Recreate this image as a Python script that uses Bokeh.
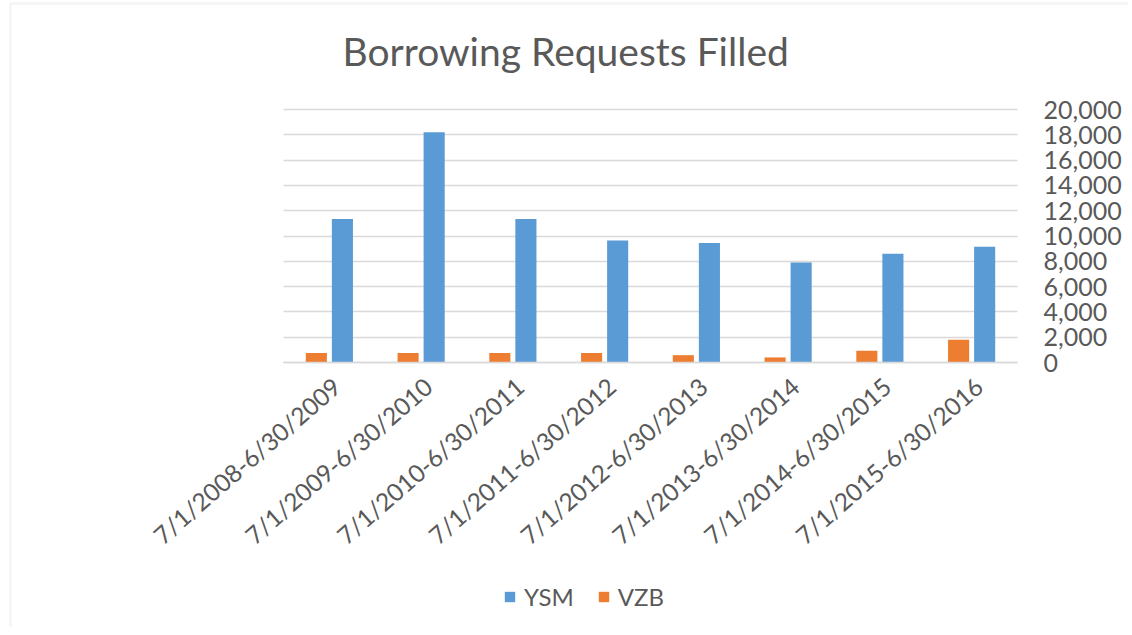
import math
from bokeh.plotting import figure
from bokeh.models import (ColumnDataSource, Range1d, FixedTicker, BoxAnnotation,
                          NumeralTickFormatter, Legend, LegendItem, Label)
from bokeh.transform import dodge
from bokeh.embed import file_html
from bokeh.resources import INLINE

categories = ["7/1/2008-6/30/2009", "7/1/2009-6/30/2010", "7/1/2010-6/30/2011",
              "7/1/2011-6/30/2012", "7/1/2012-6/30/2013", "7/1/2013-6/30/2014",
              "7/1/2014-6/30/2015", "7/1/2015-6/30/2016"]
ysm = [11350, 18200, 11350, 9650, 9450, 7900, 8600, 9150]
vzb = [750, 750, 750, 750, 580, 400, 930, 1800]
y_ticks = list(range(0, 20001, 2000))

TEXT = "#595959"
FONT = "Lato"
BORDER = "#d9d9d9"

idx = list(range(len(categories)))
source = ColumnDataSource(dict(x=idx, cat=categories, ysm=ysm, vzb=vzb))

# layout constants (pixels); the frame covers the whole canvas
W, H = 1128, 627
PLOT_LEFT, PLOT_RIGHT = 283, 1017
ZERO_Y, TOP_Y = 362, 109
PX_PER_CAT = (PLOT_RIGHT - PLOT_LEFT) / len(categories)
UNITS_PER_PX = 20000 / (ZERO_Y - TOP_Y)

x_lo, x_hi = -0.58, len(categories) - 0.58
x_start = x_lo - PLOT_LEFT / PX_PER_CAT
x_end = x_hi + (W - PLOT_RIGHT) / PX_PER_CAT
y_start = -(H - ZERO_Y) * UNITS_PER_PX
y_end = ZERO_Y * UNITS_PER_PX

p = figure(width=W, height=H, title=None,
           x_range=Range1d(x_start, x_end),
           y_range=Range1d(y_start, y_end),
           y_axis_location="right",
           output_backend="svg", toolbar_location=None,
           min_border_left=0, min_border_right=0,
           min_border_top=0, min_border_bottom=0)

# chart-area border (left and top edges)
p.add_layout(BoxAnnotation(left=x_start + 10 / PX_PER_CAT, right=x_end + 1,
                           top=y_end - 3 * UNITS_PER_PX,
                           bottom=y_start - 40 * UNITS_PER_PX,
                           fill_color=None, fill_alpha=0,
                           line_color=BORDER, line_width=2.5))

r_vzb = p.vbar(x=dodge("x", -0.222), top="vzb", width=0.23,
               source=source, color="#ed7d31", line_color=None)
r_ysm = p.vbar(x=dodge("x", 0.062), top="ysm", width=0.23,
               source=source, color="#5b9bd5", line_color=None)

title = Label(x=342, y=H - 50,
              x_units="screen", y_units="screen",
              text="Borrowing Requests Filled", text_align="left",
              text_baseline="alphabetic", text_font=FONT,
              text_font_size="39px", text_color=TEXT)
p.add_layout(title)

p.background_fill_color = "white"
p.border_fill_color = "white"
p.outline_line_color = None

p.xgrid.grid_line_color = None
p.ygrid.grid_line_color = "#d9d9d9"
p.ygrid.grid_line_width = 1.5
p.ygrid.cross_bounds = (x_lo, x_hi)

p.yaxis.fixed_location = x_hi
p.yaxis.bounds = (0, 20000)
p.yaxis.ticker = FixedTicker(ticks=y_ticks)
p.yaxis.formatter = NumeralTickFormatter(format="0,0")
p.yaxis.axis_line_color = None
p.yaxis.major_tick_line_color = None
p.yaxis.minor_tick_line_color = None
p.yaxis.major_tick_out = 0
p.yaxis.major_tick_in = 0
p.yaxis.major_label_text_font = FONT
p.yaxis.major_label_text_font_size = "25px"
p.yaxis.major_label_text_color = TEXT
p.yaxis.major_label_standoff = 26

p.xaxis.fixed_location = 0
p.xaxis.bounds = (x_lo, x_hi)
p.xaxis.ticker = FixedTicker(ticks=idx)
p.xaxis.major_label_overrides = {i: c for i, c in zip(idx, categories)}
p.xaxis.axis_line_color = "#d9d9d9"
p.xaxis.axis_line_width = 1.5
p.xaxis.major_tick_line_color = None
p.xaxis.minor_tick_line_color = None
p.xaxis.major_label_orientation = math.radians(41)
p.xaxis.major_label_text_font = FONT
p.xaxis.major_label_text_font_size = "24.5px"
p.xaxis.major_label_text_color = TEXT
p.xaxis.major_label_standoff = 14

legend = Legend(items=[LegendItem(label="YSM", renderers=[r_ysm]),
                       LegendItem(label="VZB", renderers=[r_vzb])],
                location=(503, 16), orientation="horizontal",
                glyph_width=13, glyph_height=13, label_standoff=8, spacing=23,
                padding=0, margin=0, border_line_color=None,
                background_fill_alpha=0,
                label_text_font=FONT, label_text_font_size="24px",
                label_text_color=TEXT)
p.add_layout(legend, "center")

open("out.html", "w").write(file_html(p, INLINE))
